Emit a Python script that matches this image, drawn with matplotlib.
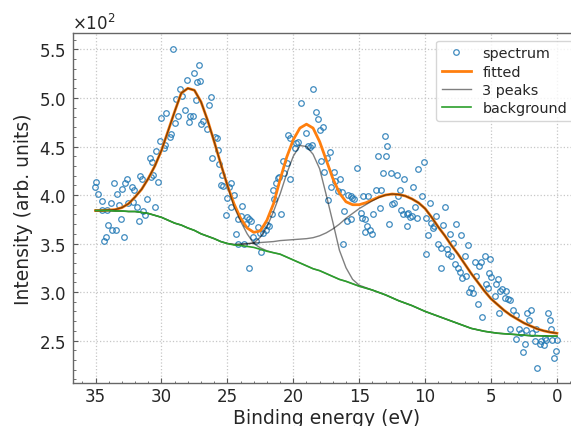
import numpy as np
import matplotlib
matplotlib.use("Agg")
import matplotlib.pyplot as plt
from matplotlib.ticker import MultipleLocator

# ---------------- data ----------------
spec_x = [35.07, 35.00, 34.80, 34.54, 34.49, 34.39, 34.24, 34.16, 34.04, 33.81, 33.73, 33.63,
          33.48, 33.41, 33.23, 33.10, 32.98, 32.85, 32.77, 32.65, 32.52, 32.27, 32.14, 32.07,
          31.84, 31.71, 31.61, 31.51, 31.39, 31.26, 31.08, 30.88, 30.83, 30.70, 30.66, 30.48,
          30.38, 30.25, 30.15, 30.00, 29.82, 29.74, 29.64, 29.39, 29.27, 29.09, 28.99, 28.89,
          28.73, 28.56, 28.43, 28.23, 28.10, 27.93, 27.80, 27.62, 27.50, 27.37, 27.30, 27.17,
          27.04, 26.97,
          26.82, 26.56, 26.39, 26.24, 26.13, 25.93, 25.81, 25.73, 25.63, 25.50, 25.43, 25.35,
          25.12, 25.05, 24.87, 24.72, 24.70, 24.47, 24.37, 24.21, 24.16, 23.96, 23.91, 23.71,
          23.61, 23.53, 23.36, 23.38, 23.22, 23.03, 22.85, 22.65, 22.52, 22.45, 22.27, 22.09,
          22.02, 21.84, 21.59, 21.51, 21.44, 21.31, 21.18, 21.08, 20.93, 20.76, 20.68, 20.50,
          20.43, 20.25, 20.22, 19.87, 19.82, 19.67, 19.42, 19.06, 18.91, 18.74, 18.61, 18.48,
          18.31, 18.15, 17.98, 17.90, 17.72,
          17.65, 17.47, 17.40, 17.22, 17.14, 16.89, 16.84, 16.64, 16.46, 16.34, 16.21, 16.13,
          15.96, 15.83, 15.63, 15.66, 15.53, 15.38, 15.20, 14.87, 14.82, 14.69, 14.57, 14.55,
          14.44, 14.32, 14.19, 14.01, 13.94, 13.69, 13.61, 13.43, 13.31, 13.18, 13.05, 12.93,
          12.90, 12.75, 12.60, 12.50, 12.35, 12.17, 12.09, 11.92, 11.84, 11.66, 11.59, 11.41,
          11.34, 11.29, 11.16, 11.03, 10.91, 10.78, 10.65, 10.53, 10.27, 10.07, 9.97, 9.90,
          9.77, 9.64, 9.57, 9.39, 9.32, 9.14, 9.01, 8.81, 8.76, 8.63, 8.51,
          8.33, 8.25, 8.13, 8.00, 7.88, 7.75, 7.67, 7.50, 7.32, 7.24, 7.17, 6.99, 6.87, 6.74,
          6.66, 6.49, 6.36, 6.23, 6.11, 5.98, 5.91, 5.73, 5.65, 5.48, 5.35, 5.22, 5.15, 5.10,
          4.97, 4.72, 4.59, 4.47, 4.39, 4.29, 4.14, 3.96, 3.84, 3.71, 3.58, 3.53, 3.33, 3.13,
          3.08, 2.88, 2.70, 2.57, 2.45, 2.37, 2.27, 2.12, 1.94, 1.92, 1.69, 1.56, 1.51, 1.31,
          1.18, 1.01, 0.93, 0.86, 0.68, 0.55, 0.43, 0.35, 0.22, 0.10, 0.00]
spec_y = [408, 413, 401, 385, 394, 353, 357, 385, 369, 392, 364, 412,
          364, 401, 390, 375, 406, 357, 412, 417, 392, 408, 393, 405,
          388, 373, 420, 416, 384, 379, 396, 438, 419, 434, 421, 388,
          445, 413, 456, 479, 448, 452, 485, 460, 463, 550, 474, 499,
          481, 509, 502, 488, 519, 475, 481, 481, 526, 498, 516, 534,
          518, 473,
          476, 468, 493, 501, 438, 460, 459, 446, 432, 410, 421, 409,
          379, 397, 408, 412, 388, 400, 360, 350, 375, 378, 389, 349,
          370, 377, 375, 325, 373, 357, 353, 367, 361, 341, 361, 364,
          369, 368, 380, 405, 396, 412, 418, 419, 380, 435, 423, 433,
          462, 459, 416, 448, 454, 455, 495, 464, 451, 450, 452, 509,
          486, 478, 467, 435, 470,
          424, 438, 395, 444, 408, 424, 414, 404, 416, 403, 349, 383,
          373, 400, 399, 375, 397, 396, 428, 381, 376, 399, 375, 362,
          368, 399, 364, 360, 380, 405, 440, 387, 405, 423, 461, 440,
          451, 370, 423, 391, 392, 421, 399, 405, 385, 380, 417, 380,
          368, 381, 377, 378, 408, 388, 376, 427, 399, 434, 339, 376,
          359, 392, 371, 366, 368, 378, 349, 345, 325, 369, 388,
          344, 339, 360, 337, 351, 329, 370, 325, 321, 359, 314, 337, 317, 348,
          300, 304, 299, 331, 317, 288, 327, 331, 274, 337, 308, 304, 320, 334,
          315, 296, 308, 313, 278, 301, 303, 294, 301, 293, 292, 262, 281, 276,
          252, 262, 258, 238, 246, 261, 278, 271, 281, 258, 250, 262, 222, 246,
          250, 245, 253, 251, 278, 271, 262, 251, 232, 239, 251]

curve_x = [35.0, 34.5, 34.0, 33.5, 33.0, 32.5, 32.0, 31.5, 31.0, 30.5, 30.0, 29.5,
           29.0, 28.5, 28.0, 27.5, 27.0, 26.5, 26.0, 25.5, 25.0, 24.5, 24.0, 23.5,
           23.0, 22.5, 22.0, 21.5, 21.0, 20.5, 20.0, 19.5, 19.0, 18.5, 18.0, 17.5,
           17.0, 16.5, 16.0, 15.5, 15.0, 14.5, 14.0, 13.5, 13.0, 12.5, 12.0, 11.5,
           11.0, 10.5, 10.0, 9.5, 9.0, 8.5, 8.0, 7.5, 7.0, 6.5, 6.0, 5.5,
           5.0, 4.5, 4.0, 3.5, 3.0, 2.5, 2.0, 1.5, 1.0, 0.5, 0.0]
fitted = [384, 384, 384.5, 385, 387, 391, 398, 406, 417, 430, 446, 466,
          486, 505, 510, 508, 496, 477, 455, 432, 410, 391, 376, 366,
          361.5, 363, 374, 391, 416, 439, 457, 469, 473, 469, 455, 436,
          417, 402, 393, 390, 390, 392, 395, 398, 400, 401, 400.5, 399,
          396, 392, 386, 377, 367, 358, 348, 339, 329, 319, 310, 301,
          293, 287, 281, 276, 272, 268, 265, 262, 260, 258.5, 257.5]
background = [384, 384, 384, 383.5, 383.5, 383, 383, 382, 381, 379, 377, 374,
              371, 369, 366, 363.5, 360, 357.5, 355, 352, 350, 348.5, 348, 347,
              346, 344, 342, 340.5, 339, 336, 333, 330, 327, 324, 322, 319,
              316, 313, 311, 308.5, 306, 304, 302, 299.5, 297, 294, 291, 288.5,
              286, 283, 280, 277.5, 275, 272.5, 270, 267.5, 265, 262.5, 261, 259.5,
              258.5, 257.5, 257, 256.5, 256, 255.5, 255, 255, 254.7, 254.5, 254.5]
peak1 = [384, 384, 384.5, 385, 387, 391, 398, 406, 417, 430, 446, 466,
         486, 505, 510, 508, 496, 477, 455, 432, 410, 388, 373, 360,
         350, 345.5, 342.5, 340.5, 339, 336, 333, 330, 327, 324, 322, 319,
         316, 313, 311, 308.5, 306, 304, 302, 299.5, 297, 294, 291, 288.5,
         286, 283, 280, 277.5, 275, 272.5, 270, 267.5, 265, 262.5, 261, 259.5,
         258.5, 257.5, 257, 256.5, 256, 255.5, 255, 255, 254.7, 254.5, 254.5]
peak2 = [384, 384, 384, 383.5, 383.5, 383, 383, 382, 381, 379, 377, 374,
         371, 369, 366, 363.5, 360, 357.5, 355, 352, 350, 349, 349, 349.5,
         350.5, 356.5, 367, 383, 401, 422, 440, 451, 450, 442, 427, 400,
         372, 343, 325, 313, 307, 304.5, 302, 299.5, 297, 294, 291, 288.5,
         286, 283, 280, 277.5, 275, 272.5, 270, 267.5, 265, 262.5, 261, 259.5,
         258.5, 257.5, 257, 256.5, 256, 255.5, 255, 255, 254.7, 254.5, 254.5]
peak3 = [384, 384, 384, 383.5, 383.5, 383, 383, 382, 381, 379, 377, 374,
         371, 369, 366, 363.5, 360, 357.5, 355, 352, 350, 349, 349.5, 350,
         350.5, 351, 351.5, 352, 353, 353.5, 354, 354.5, 355, 356, 358, 361,
         365, 370, 376, 381, 386, 390, 394, 397.5, 400, 401, 400.5, 399,
         396, 392, 386, 377, 367, 358, 348, 339, 329, 319, 310, 301,
         293, 287, 281, 276, 272, 268, 265, 262, 260, 258.5, 257.5]

# ---------------- figure ----------------
TXT = "0.15"
plt.rcParams["font.family"] = ["DejaVu Sans"]
fig = plt.figure(figsize=(5.71, 4.27), dpi=100)
ax = fig.add_axes([72.5 / 571, 43 / 427, (580 - 72.5) / 571, (384 - 34.3) / 427])

ax.plot(spec_x, spec_y, "o", ms=4.0, mfc="none", mec="#1f77b4", mew=0.9, alpha=0.85,
        label="spectrum", zorder=2)
ax.plot(curve_x, fitted, color="#ff7f0e", lw=2.0, label="fitted", zorder=3)
ax.plot(curve_x, peak1, color="k", alpha=0.5, lw=1.0, label="3 peaks", zorder=4)
ax.plot(curve_x, peak2, color="k", alpha=0.5, lw=1.0, zorder=4)
ax.plot(curve_x, peak3, color="k", alpha=0.5, lw=1.0, zorder=4)
ax.plot(curve_x, background, color="#2ca02c", lw=1.2, label="background", zorder=5)

ax.set_xlim(36.75, -1.75)
ax.set_ylim(206.2, 566.7)
ax.xaxis.set_major_locator(MultipleLocator(5))
ax.xaxis.set_minor_locator(MultipleLocator(1))
ax.yaxis.set_major_locator(MultipleLocator(50))
ax.yaxis.set_minor_locator(MultipleLocator(10))
ax.ticklabel_format(axis="y", style="sci", scilimits=(0, 0), useMathText=True)
ax.yaxis.get_offset_text().set_fontsize(12)
ax.yaxis.get_offset_text().set_color(TXT)

ax.grid(True, which="major", ls=":", color="0.78", lw=0.9)
ax.tick_params(which="both", direction="in", colors="0.35", labelcolor=TXT,
               labelsize=12)
ax.tick_params(which="major", length=3.5, width=0.8)
ax.tick_params(which="minor", length=1.8, width=0.6)
ax.tick_params(axis="y", pad=4.5)
ax.tick_params(axis="x", pad=3)
for s in ax.spines.values():
    s.set_color("0.4")
    s.set_linewidth(1.0)

ax.set_xlabel("Binding energy (eV)", fontsize=13.5, color=TXT, labelpad=2)
ax.set_ylabel("Intensity (arb. units)", fontsize=13.5, color=TXT)

leg = ax.legend(loc="upper right", fontsize=10.4, labelspacing=0.3)
for t in leg.get_texts():
    t.set_color(TXT)

fig.savefig("out.png", dpi=100)
